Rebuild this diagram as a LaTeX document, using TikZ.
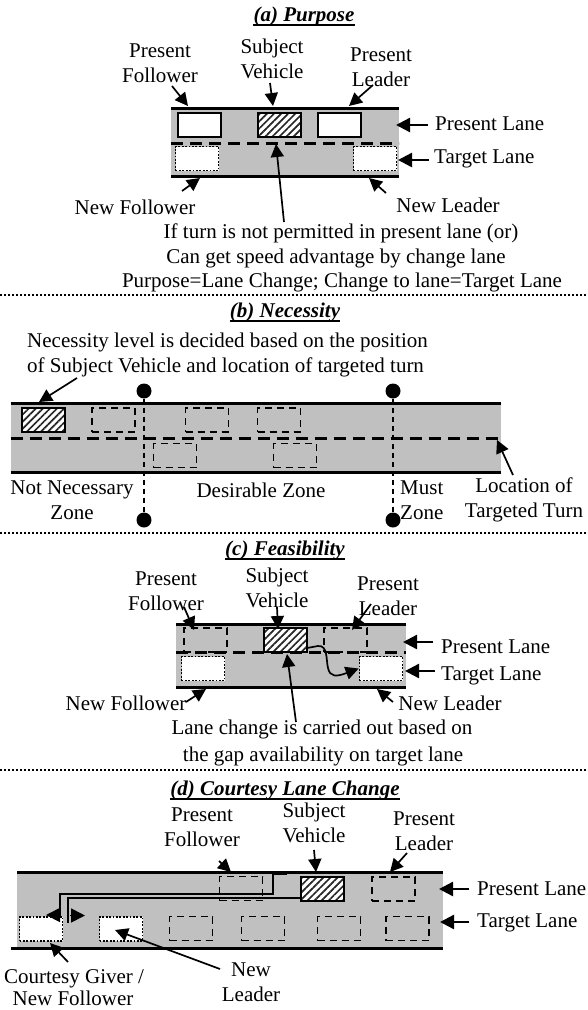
\documentclass[tikz,border=0pt]{standalone}
\usepackage{fontspec}
\setmainfont{Liberation Serif}
\usetikzlibrary{arrows.meta,patterns.meta}
\definecolor{road}{RGB}{192,192,192}
\tikzset{
 lbl/.style={font=\fontsize{21}{25}\selectfont, inner sep=0pt, align=center},
 one/.style={lbl, text height=14pt, text depth=4pt},
 ttl/.style={font=\fontsize{21}{25}\selectfont\bfseries\itshape, inner sep=0pt, text height=14pt, text depth=4pt},
 uline/.style={line width=1.8pt},
 edge/.style={line width=3pt},
 lanemark/.style={line width=3pt, dash pattern=on 12pt off 7pt},
 car/.style={rectangle, inner sep=0pt, minimum width=43pt, minimum height=24pt},
 solidcar/.style={car, draw, line width=2pt, fill=white},
 dotcar/.style={car, draw, line width=1.8pt, dash pattern=on 1.8pt off 1.6pt, fill=white},
 dashcar/.style={car, draw, line width=1.5pt, dash pattern=on 7pt off 5pt},
 subj/.style={car, draw, line width=2pt, preaction={fill=white}, pattern={Lines[angle=45,distance=5pt,line width=1.7pt]}, pattern color=black!85},
 ptr/.style={line width=1.7pt, -{Triangle[length=13pt,width=13pt]}},
 lptr/.style={line width=2.4pt, -{Triangle[length=14pt,width=14pt]}},
 sep/.style={line width=2pt, dash pattern=on 2pt off 2pt},
 zoneline/.style={line width=1.3pt, dash pattern=on 5pt off 4pt},
 bigdot/.style={circle, fill=black, inner sep=0pt, minimum size=15pt},
 path/.style={line width=1.7pt},
 headonly/.style={line width=1.7pt, -{Triangle[length=14pt,width=14pt]}},
}
\begin{document}
\begin{tikzpicture}[x=1pt,y=-1pt]
\useasboundingbox (0,0) rectangle (588,1010);
\fill[white] (0,0) rectangle (588,1010);

% ================= (a) Purpose =================
\node[ttl] (ta) at (304,16) {(a) Purpose};
\draw[uline] (ta.south west) -- (ta.south east);
\fill[road] (171,108) rectangle (399,176);
\draw[lanemark] (171,143) -- (399,143);
\draw[edge] (171,108) -- (399,108);
\draw[edge] (171,176) -- (399,176);
\node[solidcar] (apf) at (199,124.5) {};
\node[subj] (asv) at (279.5,124.5) {};
\node[solidcar] (apl) at (339.5,124.5) {};
\node[dotcar] (anf) at (197,158.5) {};
\node[dotcar] (anl) at (375,158.5) {};
\node[lbl] (apfl) at (160,63) {Present\\Follower};
\node[lbl] (asvl) at (272,59) {Subject\\Vehicle};
\node[lbl] (apll) at (381,67) {Present\\Leader};
\node[one, anchor=west] (aplane) at (435,125) {Present Lane};
\node[one, anchor=west] (atlane) at (434,158) {Target Lane};
\node[one] (anfl) at (135,209) {New Follower};
\node[one] (anll) at (448,207) {New Leader};
\node[one] (ai1) at (341,233) {If turn is not permitted in present lane (or)};
\node[one] (ai2) at (336,258) {Can get speed advantage by change lane};
\node[one] (ai3) at (342,282) {Purpose=Lane Change; Change to lane=Target Lane};
\coordinate (a1s) at (172,86);  \coordinate (a1e) at (188,106);
\coordinate (a2s) at (270,83);  \coordinate (a2e) at (273,106);
\coordinate (a3s) at (373,85);  \coordinate (a3e) at (349,106);
\coordinate (a4s) at (428,125); \coordinate (a4e) at (396,125);
\coordinate (a5s) at (429,160); \coordinate (a5e) at (398,160);
\coordinate (a6s) at (182,191); \coordinate (a6e) at (200,178);
\coordinate (a7s) at (386,193); \coordinate (a7e) at (369,178);
\coordinate (a8s) at (284,222); \coordinate (a8e) at (276,144);
\draw[ptr] (a1s) -- (a1e);
\draw[ptr] (a2s) -- (a2e);
\draw[ptr] (a3s) -- (a3e);
\draw[lptr] (a4s) -- (a4e);
\draw[lptr] (a5s) -- (a5e);
\draw[ptr] (a6s) -- (a6e);
\draw[ptr] (a7s) -- (a7e);
\draw[ptr] (a8s) -- (a8e);
\coordinate (s1l) at (0,295); \coordinate (s1r) at (588,295);
\draw[sep] (s1l) -- (s1r);

% ================= (b) Necessity =================
\node[ttl] (tb) at (285,312) {(b) Necessity};
\draw[uline] (tb.south west) -- (tb.south east);
\node[lbl, align=left, anchor=west] (btxt) at (27,355) {Necessity level is decided based on the position\\of Subject Vehicle and location of targeted turn};
\fill[road] (10.5,403) rectangle (500.5,472);
\draw[lanemark] (10.5,438) -- (500.5,438);
\draw[edge] (10.5,403) -- (500.5,403);
\draw[edge] (10.5,472) -- (500.5,472);
\node[subj] (bsv) at (43,420) {};
\node[dashcar] (bc1) at (113.5,420) {};
\node[dashcar] (bc2) at (207,420) {};
\node[dashcar] (bc3) at (279,420) {};
\node[dashcar] (bc4) at (175,455.5) {};
\node[dashcar] (bc5) at (295,455.5) {};
\node[bigdot] (bd1) at (144,391) {};
\node[bigdot] (bd2) at (393,391) {};
\node[bigdot] (bd3) at (144,520) {};
\node[bigdot] (bd4) at (393,520) {};
\draw[zoneline] (bd1) -- (bd3);
\draw[zoneline] (bd2) -- (bd4);
\node[lbl] (bnn) at (72,500) {Not Necessary\\Zone};
\node[one] (bdz) at (261,492) {Desirable Zone};
\node[lbl, align=left, anchor=west] (bmz) at (400,500) {Must\\Zone};
\node[lbl] (bloc) at (524,500) {Location of\\Targeted Turn};
\coordinate (b1s) at (77,378);  \coordinate (b1e) at (39,402);
\coordinate (b2s) at (513,475); \coordinate (b2e) at (497,440);
\draw[ptr] (b1s) -- (b1e);
\draw[ptr] (b2s) -- (b2e);
\coordinate (s2l) at (0,533); \coordinate (s2r) at (588,533);
\draw[sep] (s2l) -- (s2r);

% ================= (c) Feasibility =================
\node[ttl] (tc) at (285,550) {(c) Feasibility};
\draw[uline] (tc.south west) -- (tc.south east);
\fill[road] (176,624) rectangle (406,687);
\draw[lanemark] (176,652) -- (406,652);
\draw[edge] (176,624) -- (406,624);
\draw[edge] (176,687) -- (406,687);
\node[dashcar] (cpf) at (205.5,640) {};
\node[subj] (csv) at (285,639.5) {};
\node[dashcar] (cpl) at (345.5,640) {};
\node[dotcar] (cnf) at (203,668.5) {};
\node[dotcar] (cnl) at (381,668.5) {};
\node[lbl] (cpfl) at (166,591) {Present\\Follower};
\node[lbl] (csvl) at (277,588) {Subject\\Vehicle};
\node[lbl] (cpll) at (388,596) {Present\\Leader};
\node[one, anchor=west] (cplane) at (441,648) {Present Lane};
\node[one, anchor=west] (ctlane) at (441,675) {Target Lane};
\node[one] (cnfl) at (126,705) {New Follower};
\node[one] (cnll) at (450,705) {New Leader};
\node[one] (ci1) at (322,729) {Lane change is carried out based on};
\node[one] (ci2) at (323,756) {the gap availability on target lane};
\coordinate (cms) at (307,648);
\draw[ptr] (cms) -- (318,646) .. controls (328,645) and (326,660) .. (328,668) .. controls (330,677) and (336,677) .. (cnl.west);
\coordinate (c1s) at (184,607); \coordinate (c1e) at (194,630);
\coordinate (c2s) at (277,607); \coordinate (c2e) at (278,629);
\coordinate (c3s) at (371,604); \coordinate (c3e) at (352,630);
\coordinate (c4s) at (433,642); \coordinate (c4e) at (403,642);
\coordinate (c5s) at (435,671); \coordinate (c5e) at (405,671);
\coordinate (c6s) at (186,702); \coordinate (c6e) at (206,689);
\coordinate (c7s) at (393,702); \coordinate (c7e) at (377,689);
\coordinate (c8s) at (296,722); \coordinate (c8e) at (287,654);
\draw[ptr] (c1s) -- (c1e);
\draw[ptr] (c2s) -- (c2e);
\draw[ptr] (c3s) -- (c3e);
\draw[lptr] (c4s) -- (c4e);
\draw[lptr] (c5s) -- (c5e);
\draw[ptr] (c6s) -- (c6e);
\draw[ptr] (c7s) -- (c7e);
\draw[ptr] (c8s) -- (c8e);
\coordinate (s3l) at (0,770); \coordinate (s3r) at (588,770);
\draw[sep] (s3l) -- (s3r);

% ================= (d) Courtesy Lane Change =================
\node[ttl] (td) at (285,790) {(d) Courtesy Lane Change};
\draw[uline] (td.south west) -- (td.south east);
\fill[road] (17,872) rectangle (442.5,948);
\draw[edge] (17,872) -- (442.5,872);
\draw[edge] (10.5,948) -- (442.5,948);
\node[dashcar] (dpf) at (241,888.5) {};
\node[subj] (dsv) at (322,889) {};
\node[dashcar] (dpl) at (393.5,889) {};
\node[dotcar] (dcg) at (41,929) {};
\node[dotcar] (dnl) at (121,929) {};
\node[dashcar] (dt1) at (191,928.5) {};
\node[dashcar] (dt2) at (263,928.5) {};
\node[dashcar] (dt3) at (339,928.5) {};
\node[dashcar] (dt4) at (407.5,928.5) {};
\node[lbl] (dpfl) at (202,827) {Present\\Follower};
\node[lbl] (dsvl) at (314,823) {Subject\\Vehicle};
\node[lbl] (dpll) at (424,831) {Present\\Leader};
\node[one, anchor=west] (dplane) at (477,890) {Present Lane};
\node[one, anchor=west] (dtlane) at (477,922) {Target Lane};
\node[one] (dcgl1) at (74,978) {Courtesy Giver /};
\node[one] (dcgl2) at (73,1000) {New Follower};
\node[lbl] (dnll) at (251,982) {New\\Leader};
% manoeuvre paths
\coordinate (p1a) at (287,874); \coordinate (p1b) at (273,874);
\coordinate (p1c) at (273,894); \coordinate (p1d) at (60,894);
\coordinate (p1e) at (60,915);  \coordinate (p1t) at (46,915);
\draw[path] (p1a) -- (p1b) -- (p1c) -- (p1d) -- (p1e);
\draw[headonly] (p1e) -- (p1t);
\coordinate (p2a) at (300,898); \coordinate (p2b) at (68,898);
\coordinate (p2c) at (68,923);  \coordinate (p2h) at (70,915.5); \coordinate (p2t) at (85,915.5);
\draw[path] (p2a) -- (p2b) -- (p2c);
\draw[headonly] (p2h) -- (p2t);
\coordinate (d1s) at (219,861); \coordinate (d1e) at (231,872);
\coordinate (d2s) at (314,850); \coordinate (d2e) at (316,872);
\coordinate (d3s) at (407,853); \coordinate (d3e) at (390,872);
\coordinate (d4s) at (469,889); \coordinate (d4e) at (439,889);
\coordinate (d5s) at (469,922); \coordinate (d5e) at (440,922);
\coordinate (d6s) at (68,962);  \coordinate (d6e) at (50,943);
\coordinate (d7s) at (220,969); \coordinate (d7e) at (115,930);
\draw[ptr] (d1s) -- (d1e);
\draw[ptr] (d2s) -- (d2e);
\draw[ptr] (d3s) -- (d3e);
\draw[lptr] (d4s) -- (d4e);
\draw[lptr] (d5s) -- (d5e);
\draw[ptr] (d6s) -- (d6e);
\draw[ptr] (d7s) -- (d7e);
\end{tikzpicture}
\end{document}
